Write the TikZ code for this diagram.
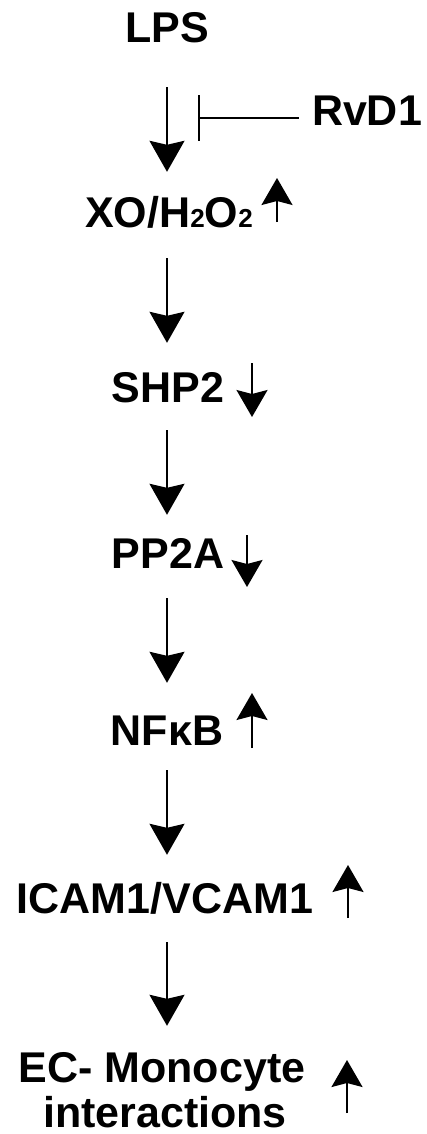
\documentclass[tikz,border=0pt]{standalone}
\usepackage{fontspec}
\setmainfont{Liberation Sans}
\usetikzlibrary{arrows.meta}
\newcommand{\subtwo}{{\fontsize{26}{26}\selectfont 2}}
\begin{document}
\begin{tikzpicture}[x=1pt,y=-1pt,
  lbl/.style={font=\fontsize{43}{47}\selectfont\bfseries, inner sep=0pt, anchor=base, text height=31pt, text depth=0pt},
  flow/.style={line width=1.8pt, -{Stealth[length=31pt,width=35pt,inset=4pt]}},
  ind/.style={line width=1.7pt, -{Stealth[length=27pt,width=31pt,inset=4pt]}},
  inhib/.style={line width=1.6pt, -{Bar[width=46pt]}}]
\useasboundingbox (0,0) rectangle (427,1134);
% nodes
\node[lbl] (lps)  at (167,43)   {LPS};
\node[lbl] (rvd)  at (367,126)  {RvD1};
\node[lbl] (xo)   at (169,227)  {XO/H\subtwo O\subtwo};
\node[lbl] (shp)  at (168,402)  {SHP2};
\node[lbl] (pp)   at (168,568)  {PP2A};
\node[lbl] (nfkb) at (167,745)  {NFκB};
\node[lbl] (icam) at (165,913)  {ICAM1/VCAM1};
\node[lbl] (ec)   at (162,1082) {EC- Monocyte};
\node[lbl] (ec2)  at (165,1127) {interactions};
\coordinate (inh) at (198,118);
% main flow
\draw[flow, shorten <=44pt, shorten >=24pt] (lps.south) -- (lps.south |- xo.north);
\draw[flow, shorten <=31pt, shorten >=28pt] (lps.south |- xo.south) -- (lps.south |- shp.north);
\draw[flow, shorten <=28pt, shorten >=22pt] (lps.south |- shp.south) -- (lps.south |- pp.north);
\draw[flow, shorten <=30pt, shorten >=31pt] (lps.south |- pp.south) -- (lps.south |- nfkb.north);
\draw[flow, shorten <=25pt, shorten >=27pt] (nfkb.south) -- (nfkb.south |- icam.north);
\draw[flow, shorten <=29pt, shorten >=25pt] (nfkb.south |- icam.south) -- (nfkb.south |- ec.north);
% inhibition
\draw[inhib, shorten <=13pt] (inh -| rvd.west) -- (inh);
% change indicators
\draw[ind] (277,222) -- (277,178);
\draw[ind] (252,363) -- (252,417);
\draw[ind] (247,535) -- (247,587);
\draw[ind] (252,748) -- (252,693);
\draw[ind] (348,918) -- (348,865);
\draw[ind] (347,1113) -- (347,1060);
\end{tikzpicture}
\end{document}
